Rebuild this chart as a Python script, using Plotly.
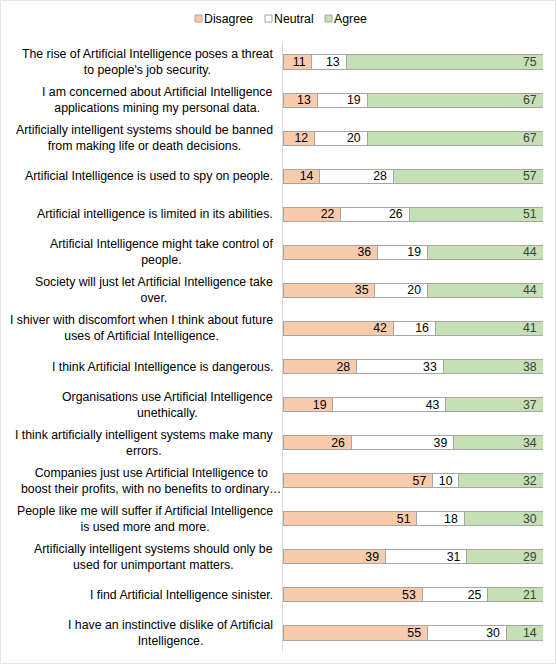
import plotly.graph_objects as go

categories = [
    "The rise of Artificial Intelligence poses a threat<br>to people's job security.",
    "I am concerned about Artificial Intelligence<br>applications mining my personal data.",
    "Artificially intelligent systems should be banned<br>from making life or death decisions.",
    "Artificial Intelligence is used to spy on people.",
    "Artificial intelligence is limited in its abilities.",
    "Artificial Intelligence might take control of<br>people.",
    "Society will just let Artificial Intelligence take<br>over.",
    "I shiver with discomfort when I think about future<br>uses of Artificial Intelligence.",
    "I think Artificial Intelligence is dangerous.",
    "Organisations use Artificial Intelligence<br>unethically.",
    "I think artificially intelligent systems make many<br>errors.",
    "Companies just use Artificial Intelligence to<br>boost their profits, with no benefits to ordinary…",
    "People like me will suffer if Artificial Intelligence<br>is used more and more.",
    "Artificially intelligent systems should only be<br>used for unimportant matters.",
    "I find Artificial Intelligence sinister.",
    "I have an instinctive dislike of Artificial<br>Intelligence.",
]
disagree = [11, 13, 12, 14, 22, 36, 35, 42, 28, 19, 26, 57, 51, 39, 53, 55]
neutral = [13, 19, 20, 28, 26, 19, 20, 16, 33, 43, 39, 10, 18, 31, 25, 30]
agree = [75, 67, 67, 57, 51, 44, 44, 41, 38, 37, 34, 32, 30, 29, 21, 14]
series_names = ["Disagree", "Neutral", "Agree"]

ids = list(range(len(categories)))
FONT = "Liberation Sans, Arial, sans-serif"
LABEL_SIZE = 12.3

L, R, T, B = 283, 14, 43, 14
W, H = 557, 666
pw, ph = W - L - R, H - T - B


def px_x(x):
    return (x - L) / pw


def px_y(y):
    return (H - B - y) / ph


colors = ["#F8CBAD", "#FFFFFF", "#C5E0B4"]
tcolors = ["#000000", "#000000", "#404040"]
edge = "#A6A6A6"

fig = go.Figure()
for name, vals, col, tcol in zip(series_names, [disagree, neutral, agree], colors, tcolors):
    fig.add_trace(go.Bar(
        name=name, y=ids, x=vals, orientation="h",
        marker=dict(color=col, line=dict(color=edge, width=1)),
        width=0.37,
        texttemplate="%{x}\u00a0", textposition="inside",
        insidetextanchor="end", constraintext="none", textangle=0,
        textfont=dict(family=FONT, size=12.3, color=tcol),
        hoverinfo="skip", showlegend=False,
    ))

for i, c in enumerate(categories):
    fig.add_annotation(
        x=0, y=i, xref="paper", yref="y", text=c, showarrow=False,
        xanchor="right", yanchor="middle", align="center",
        xshift=-1 if i == 11 else -9, borderpad=0,
        font=dict(family=FONT, size=LABEL_SIZE, color="#000000"),
    )

# legend (drawn manually to match compact spacing)
leg_sym_x = [195, 265, 325]
leg_y = 18.5
for name, col, sx in zip(series_names, colors, leg_sym_x):
    fig.add_shape(type="rect", xref="paper", yref="paper",
                  x0=px_x(sx), x1=px_x(sx + 7),
                  y0=px_y(leg_y + 3.5), y1=px_y(leg_y - 3.5),
                  fillcolor=col, line=dict(color=edge, width=1))
    fig.add_annotation(x=px_x(sx + 8), y=px_y(leg_y), xref="paper", yref="paper",
                       text=name, showarrow=False, xanchor="left", yanchor="middle",
                       borderpad=0, font=dict(family=FONT, size=LABEL_SIZE, color="#000000"))

fig.add_shape(type="rect", xref="paper", yref="paper",
              x0=px_x(0.5), x1=px_x(W - 1.5),
              y0=px_y(H - 2.5), y1=px_y(0.5),
              line=dict(color="#E6E6E6", width=1), layer="below")

fig.update_layout(
    barmode="stack",
    width=W, height=H,
    margin=dict(l=L, r=R, t=T, b=B),
    paper_bgcolor="white", plot_bgcolor="white",
    font=dict(family=FONT, size=12, color="#000000"),
    showlegend=False,
    xaxis=dict(range=[0, 99], visible=False, fixedrange=True),
    yaxis=dict(range=[15.5, -0.5], showticklabels=False, showgrid=False,
               zeroline=False, showline=True, linecolor="#D9D9D9",
               linewidth=1, ticks="", fixedrange=True),
    uniformtext=dict(mode=False),
)

fig.write_html("out.html", config={"displayModeBar": False},
               post_script="document.body.style.margin='0';document.body.style.overflow='hidden';")
